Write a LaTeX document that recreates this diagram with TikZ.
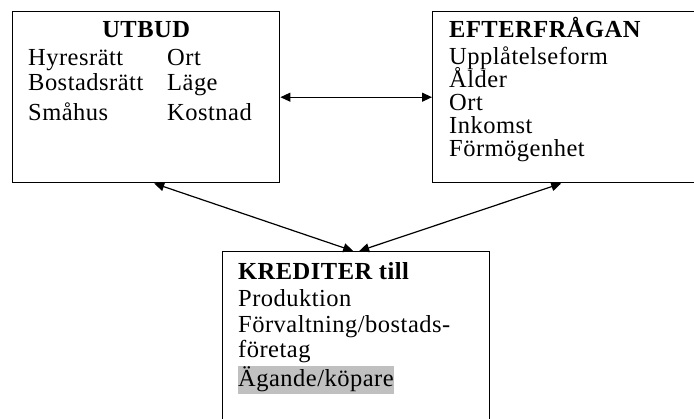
\documentclass[tikz,border=0pt]{standalone}
\usepackage{fontspec}
\setmainfont[LetterSpace=2]{Liberation Serif}
\usetikzlibrary{arrows.meta}

\begin{document}
\begin{tikzpicture}[x=1pt, y=-1pt,
    box/.style={draw, line width=1.4pt, minimum width=267pt, anchor=north west, inner sep=0pt},
    item/.style={anchor=base west, inner sep=0pt, font=\fontsize{24.5}{24}\selectfont},
    head/.style={item, font=\fontsize{24.5}{24}\selectfont\bfseries},
    link/.style={{Triangle[length=10pt,width=9pt]}-{Triangle[length=10pt,width=9pt]}, line width=1.2pt}]

    \useasboundingbox (0,0) rectangle (694,419);
    \clip (0,0) rectangle (694,419);

    % boxes
    \node[box, minimum height=171pt] (utbud) at (12,11) {};
    \node[box, minimum height=171pt] (efter) at (432,11) {};
    \node[box, minimum height=190pt] (kred) at (222,251) {};

    % UTBUD
    \node[head, anchor=base] (utbudhead) at (utbud.north |- 0,38) {UTBUD};
    \node[item] (hyres) at (28,65.5) {Hyresrätt};
    \node[item] (bostad) at (28,90.5) {Bostadsrätt};
    \node[item] (smahus) at (28,120.5) {Småhus};
    \node[item] (ort) at (167,65.5) {Ort};
    \node[item] (lage) at (167,90.5) {Läge};
    \node[item] (kostnad) at (167,120.5) {Kostnad};

    % EFTERFRÅGAN
    \node[head] (efterhead) at (449,38) {EFTERFRÅGAN};
    \node[item] (upplat) at (449,65) {Upplåtelseform};
    \node[item] (alder) at (449,88) {Ålder};
    \node[item] (ort2) at (449,111) {Ort};
    \node[item] (inkomst) at (449,134) {Inkomst};
    \node[item] (formogen) at (449,157) {Förmögenhet};

    % KREDITER
    \node[head] (kredhead) at (238,280) {KREDITER till};
    \node[item] (prod) at (238,307) {Produktion};
    \node[item] (forvalt) at (238,333) {Förvaltning/bostads-};
    \node[item] (foretag) at (238,358) {företag};
    \node[item, fill={rgb,255:red,192;green,192;blue,192}, text height=20pt, text depth=6pt, inner ysep=1pt] (agande) at (238,387) {Ägande/köpare};

    % arrows
    \draw[link] (utbud.east) -- (efter.west);
    \draw[link] ([xshift=8pt]utbud.south) -- ([xshift=-3pt]kred.north);
    \draw[link] ([xshift=-5pt]efter.south) -- ([xshift=3pt]kred.north);

\end{tikzpicture}
\end{document}
